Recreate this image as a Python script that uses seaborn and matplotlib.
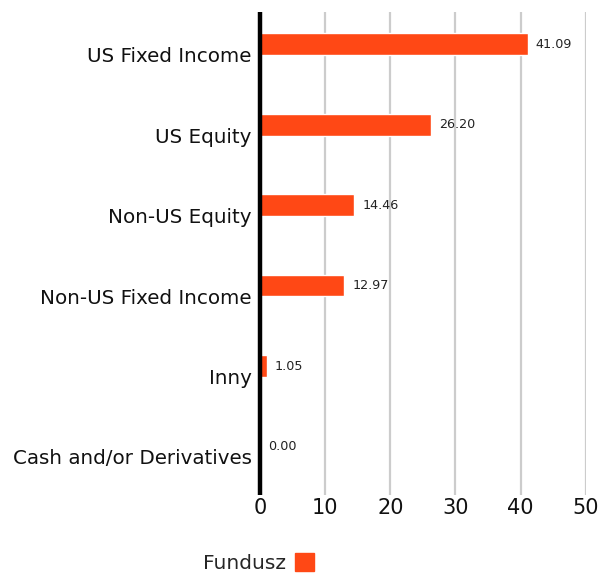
#Horizontal bar chart of fund allocation
import matplotlib
matplotlib.use('Agg')
import matplotlib.pyplot as plt
import numpy as np
import pandas as pd
import seaborn as sb
from matplotlib.patches import Patch

#Data
categories = ['US Fixed Income', 'US Equity', 'Non-US Equity', 'Non-US Fixed Income',
              'Inny', 'Cash and/or Derivatives']
values = [41.09, 26.20, 14.46, 12.97, 1.05, 0.00]
series_name = 'Fundusz'
xticks = [0, 10, 20, 30, 40, 50]

df = pd.DataFrame({'category': categories, 'value': values})

sb.set_style('white')
plt.rcParams['font.family'] = ['DejaVu Sans']

fig = plt.figure(figsize=(5.99, 5.74), dpi=100)
ax = fig.add_axes([0.434, 0.138, 0.544, 0.841])

bar_color = '#ff4815'
sb.barplot(data=df, x='value', y='category', orient='h', color=bar_color,
           width=0.27, saturation=1, ax=ax, zorder=3)

#Gridlines and zero line
ax.set_xlim(0, 50)
ax.set_xticks(xticks)
for t in xticks[1:]:
    ax.axvline(t, color='#cccccc', lw=1.6, zorder=1)
ax.axvline(0, color='black', lw=3.2, zorder=4, clip_on=False, solid_capstyle='butt')

#Category labels sit a bit below the bars
offset = 0.13
ax.set_yticks(np.arange(len(categories)) + offset)
ax.set_yticklabels(categories, fontsize=14.3, color='#111111')
ax.set_ylim(len(categories) - 0.4, -0.4)
ax.tick_params(axis='y', length=0, pad=6)
ax.tick_params(axis='x', length=0, labelsize=15, pad=2, colors='#111111')
ax.set_xlabel('')
ax.set_ylabel('')
for s in ax.spines.values():
    s.set_visible(False)

#Value labels
for i, v in enumerate(values):
    ax.text(v + 1.25, i, '%.2f' % v, va='center', ha='left', fontsize=9.2, color='#222222')

#Legend
fig.legend(handles=[Patch(color=bar_color, label=series_name)], loc='lower center',
           bbox_to_anchor=(0.432, -0.03), frameon=False, markerfirst=False,
           fontsize=14.5, handlelength=0.95, handleheight=0.95, handletextpad=0.45)

plt.savefig('out.png', dpi=100)
